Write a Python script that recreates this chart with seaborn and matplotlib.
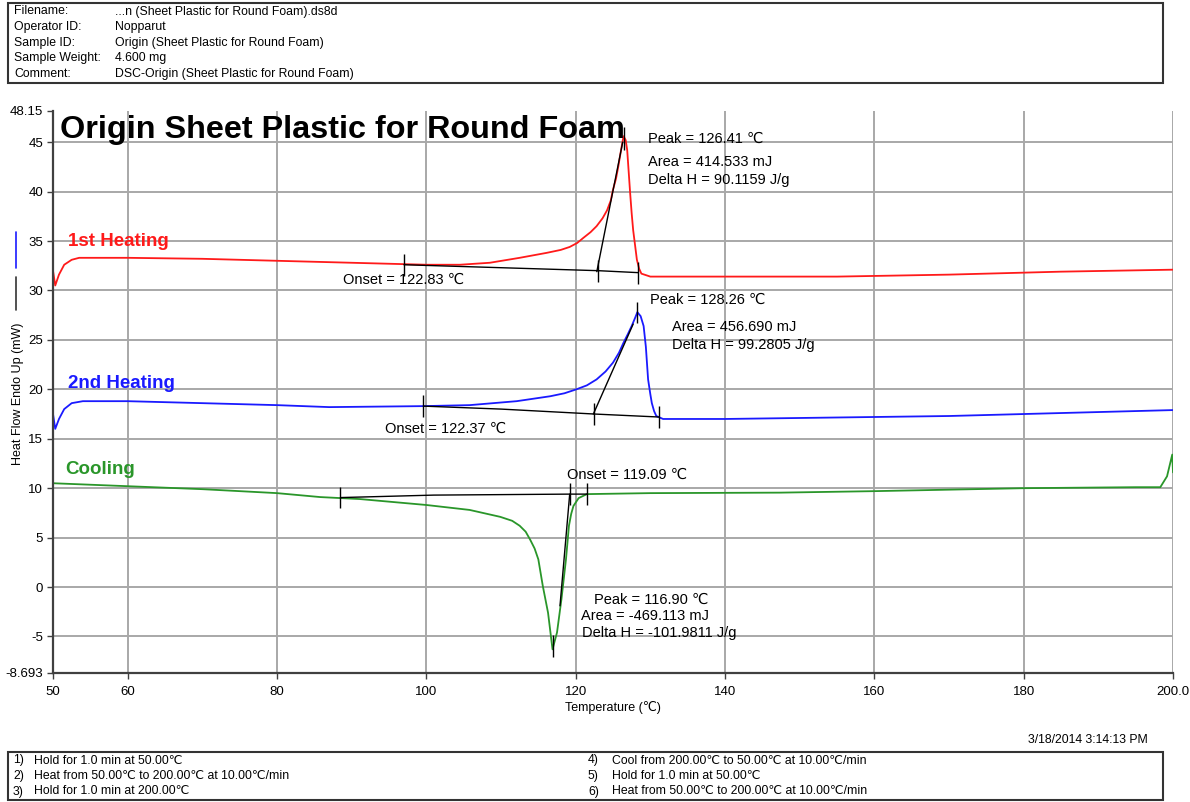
import numpy as np
import pandas as pd
import seaborn as sns
from matplotlib import pyplot as plt
from matplotlib.lines import Line2D
from matplotlib.patches import Rectangle

# DSC curves
heat1_temp = [50.0, 50.3, 50.8, 51.5, 52.5, 53.5, 60, 70, 80, 90, 100, 104.5, 108.5, 112.5,
              116.1, 118.0, 119.2, 120.2, 121.0, 122.0, 122.8, 123.6, 124.2, 124.7, 125.0, 125.4,
              125.7, 126.1, 126.41, 126.7, 126.9, 127.1, 127.3, 127.5, 127.7, 128.0, 128.2, 128.5,
              128.8, 130, 140, 155, 170, 185, 200]
heat1_flow = [32.0, 30.5, 31.6, 32.6, 33.1, 33.3, 33.3, 33.2, 33.0, 32.8, 32.6, 32.6, 32.8, 33.3,
              33.8, 34.1, 34.4, 34.8, 35.3, 35.9, 36.5, 37.3, 38.1, 39.1, 40.2, 41.3,
              42.5, 44.3, 45.6, 45.2, 44.2, 42.0, 39.8, 37.8, 36.1, 34.3, 33.1, 32.2,
              31.7, 31.4, 31.4, 31.4, 31.6, 31.9, 32.1]

heat2_temp = [50.0, 50.3, 50.8, 51.5, 52.5, 54, 60, 65, 70, 80, 87, 99.6, 105.8, 112.1, 116.6,
              118.5, 120.1, 121.5, 122.8, 124.0, 125.0, 125.8, 126.4, 127.0, 127.5, 128.0, 128.26,
              128.7, 129.1, 129.4, 129.7, 130.0, 130.2, 130.5, 130.8, 131.7, 140, 150, 160, 170,
              180, 190, 200]
heat2_flow = [17.5, 16.0, 17.0, 18.0, 18.6, 18.8, 18.8, 18.7, 18.6, 18.4, 18.2, 18.3, 18.4, 18.8, 19.3,
              19.6, 20.0, 20.4, 21.0, 21.8, 22.7, 23.7, 24.7, 25.6, 26.4, 27.3, 27.8,
              27.4, 26.4, 24.3, 21.0, 19.5, 18.6, 17.8, 17.3, 17.0, 17.0, 17.1, 17.2, 17.3,
              17.5, 17.7, 17.9]

cool_temp = [50, 60, 70, 80, 85.8, 91.1, 100, 105.8, 109.9, 111.5, 112.5, 113.3, 113.9, 114.5,
             115.0, 115.6, 116.3, 116.9, 117.5, 118.1, 118.7, 119.1, 119.4, 119.7, 120.4, 121.5,
             130, 147.4, 160, 180, 195, 198.3, 199.2, 199.9, 200]
cool_flow = [10.5, 10.2, 9.9, 9.5, 9.1, 8.9, 8.3, 7.8, 7.1, 6.7, 6.2, 5.6, 4.8, 3.9,
             2.8, 0.1, -2.6, -6.3, -4.6, -1.2, 2.8, 6.2, 7.4, 8.2, 9.0, 9.4,
             9.5, 9.55, 9.7, 10.0, 10.1, 10.1, 11.2, 13.4, 11.6]

# analysis lines (baseline + onset tangent) and their tick marks
heat1_base_t = [97.0, 110, 123.0, 128.4]
heat1_base_hf = [32.6, 32.3, 32.0, 31.8]
heat1_tan_t = [122.83, 126.3]
heat1_tan_hf = [31.9, 45.0]
heat1_ticks = [97.0, 123.0, 128.4]

heat2_base_t = [99.6, 110, 122.5, 131.1]
heat2_base_hf = [18.3, 18.0, 17.5, 17.2]
heat2_tan_t = [122.37, 127.7]
heat2_tan_hf = [17.5, 26.6]
heat2_ticks = [99.6, 122.5, 131.1]

cool_base_t = [88.5, 101, 119.2, 121.5]
cool_base_hf = [9.05, 9.3, 9.4, 9.4]
cool_tan_t = [119.2, 117.9]
cool_tan_hf = [9.4, -1.9]
cool_ticks = [88.5, 119.2, 121.5]

xticks = [50, 60, 80, 100, 120, 140, 160, 180, 200]
xtick_labels = ['50', '60', '80', '100', '120', '140', '160', '180', '200.0']
yticks = [-8.693, -5, 0, 5, 10, 15, 20, 25, 30, 35, 40, 45, 48.15]
ytick_labels = ['-8.693', '-5', '0', '5', '10', '15', '20', '25', '30', '35', '40', '45', '48.15']

header_keys = ['Filename:', 'Operator ID:', 'Sample ID:', 'Sample Weight:', 'Comment:']
header_vals = ['...n (Sheet Plastic for Round Foam).ds8d', 'Nopparut',
               'Origin (Sheet Plastic for Round Foam)', '4.600 mg',
               'DSC-Origin (Sheet Plastic for Round Foam)']
method_steps = ['Hold for 1.0 min at 50.00℃',
                'Heat from 50.00℃ to 200.00℃ at 10.00℃/min',
                'Hold for 1.0 min at 200.00℃',
                'Cool from 200.00℃ to 50.00℃ at 10.00℃/min',
                'Hold for 1.0 min at 50.00℃',
                'Heat from 50.00℃ to 200.00℃ at 10.00℃/min']

RED = '#ff1a1a'
BLUE = '#1a1aff'
GREEN = '#2a962a'

sns.set_theme(style='white')
plt.rcParams['font.family'] = ['Liberation Sans', 'DejaVu Sans']
plt.rcParams['text.color'] = 'black'
plt.rcParams['axes.labelcolor'] = 'black'

fig = plt.figure(figsize=(11.9, 8.02), dpi=100)
ax = fig.add_axes([0.04454, 0.16085, 0.94118, 0.70075])

df1 = pd.DataFrame({'Temperature': heat1_temp, 'HeatFlow': heat1_flow})
df2 = pd.DataFrame({'Temperature': heat2_temp, 'HeatFlow': heat2_flow})
df3 = pd.DataFrame({'Temperature': cool_temp, 'HeatFlow': cool_flow})
sns.lineplot(data=df1, x='Temperature', y='HeatFlow', color=RED, lw=1.3, estimator=None, ax=ax)
sns.lineplot(data=df2, x='Temperature', y='HeatFlow', color=BLUE, lw=1.3, estimator=None, ax=ax)
sns.lineplot(data=df3, x='Temperature', y='HeatFlow', color=GREEN, lw=1.3, estimator=None, ax=ax)

# baselines, tangents, ticks
for bt, bh, tt, th, ticks in [(heat1_base_t, heat1_base_hf, heat1_tan_t, heat1_tan_hf, heat1_ticks),
                              (heat2_base_t, heat2_base_hf, heat2_tan_t, heat2_tan_hf, heat2_ticks),
                              (cool_base_t, cool_base_hf, cool_tan_t, cool_tan_hf, cool_ticks)]:
    ax.plot(bt, bh, color='black', lw=1)
    ax.plot(tt, th, color='black', lw=1)
    hf = np.interp(ticks, bt, bh)
    ax.vlines(ticks, hf - 1.1, hf + 1.1, color='black', lw=1)
# peak markers
ax.vlines([126.41, 128.26, 116.9], [44.2, 26.7, -7.1], [46.5, 28.8, -4.9], color='black', lw=1)

ax.set_xlim(50, 200)
ax.set_ylim(-8.693, 48.15)
ax.set_xticks(xticks)
ax.set_xticklabels(xtick_labels)
ax.set_yticks(yticks)
ax.set_yticklabels(ytick_labels)
ax.tick_params(axis='both', labelsize=9.5, direction='out', length=4, width=1,
               color='#404040', labelcolor='black', bottom=True, left=True)
ax.tick_params(axis='x', pad=5.5)
ax.tick_params(axis='y', pad=3)
ax.grid(True, color='#a8a8a8', lw=1.4)
for i, gl in enumerate(ax.get_ygridlines()):
    if yticks[i] in (-8.693, 48.15):
        gl.set_visible(False)
ax.get_xgridlines()[0].set_visible(False)
for s in ['top', 'right']:
    ax.spines[s].set_visible(False)
for s in ['left', 'bottom']:
    ax.spines[s].set_color('#404040')
    ax.spines[s].set_linewidth(1.6)
ax.set_xlabel('Temperature (℃)', fontsize=9, labelpad=2)
ax.set_ylabel('')

# title and series labels
ax.text(51, 46.2, 'Origin Sheet Plastic for Round Foam', fontsize=23.3, fontweight='bold',
        va='center', ha='left')
ax.text(52.0, 35.0, '1st Heating', color=RED, fontsize=13.5, fontweight='bold', va='center')
ax.text(52.0, 20.6, '2nd Heating', color=BLUE, fontsize=13.5, fontweight='bold', va='center')
ax.text(51.6, 11.9, 'Cooling', color=GREEN, fontsize=13.5, fontweight='bold', va='center')

fs = 10.5
ax.text(129.7, 45.3, 'Peak = 126.41 ℃', fontsize=fs, va='center')
ax.text(129.7, 43.0, 'Area = 414.533 mJ', fontsize=fs, va='center')
ax.text(129.7, 41.2, 'Delta H = 90.1159 J/g', fontsize=fs, va='center')
ax.text(88.8, 31.1, 'Onset = 122.83 ℃', fontsize=fs, va='center')

ax.text(130.0, 29.0, 'Peak = 128.26 ℃', fontsize=fs, va='center')
ax.text(132.9, 26.3, 'Area = 456.690 mJ', fontsize=fs, va='center')
ax.text(132.9, 24.5, 'Delta H = 99.2805 J/g', fontsize=fs, va='center')
ax.text(94.5, 16.0, 'Onset = 122.37 ℃', fontsize=fs, va='center')

ax.text(118.9, 11.3, 'Onset = 119.09 ℃', fontsize=fs, va='center')
ax.text(122.4, -1.3, 'Peak = 116.90 ℃', fontsize=fs, va='center')
ax.text(120.7, -2.9, 'Area = -469.113 mJ', fontsize=fs, va='center')
ax.text(120.8, -4.6, 'Delta H = -101.9811 J/g', fontsize=fs, va='center')

# y axis label with the little line markers
fig.text(0.0151, 0.5087, 'Heat Flow Endo Up (mW)', rotation=90, fontsize=9,
         ha='center', va='center')
fig.add_artist(Line2D([0.0134, 0.0134], [1 - 268 / 802, 1 - 232 / 802], color=BLUE, lw=1.2))
fig.add_artist(Line2D([0.0134, 0.0134], [1 - 310 / 802, 1 - 277 / 802], color='#333333', lw=1.2))

# header box
fig.add_artist(Rectangle((8 / 1190, 1 - 83 / 802), 1155 / 1190, 80 / 802, transform=fig.transFigure,
                         fill=False, edgecolor='#333333', lw=1.5))
for i, (k, v) in enumerate(zip(header_keys, header_vals)):
    yy = 1 - (14.5 + i * 15.6) / 802
    fig.text(14 / 1190, yy, k, fontsize=8.8, va='baseline')
    fig.text(115 / 1190, yy, v, fontsize=8.8, va='baseline')

# date stamp
fig.text(1148 / 1190, 1 - 740 / 802, '3/18/2014 3:14:13 PM', fontsize=8.8, ha='right', va='center')

# method box
fig.add_artist(Rectangle((8 / 1190, 1 - 800 / 802), 1155 / 1190, 48 / 802, transform=fig.transFigure,
                         fill=False, edgecolor='#333333', lw=1.5))
for i, step in enumerate(method_steps):
    col = i // 3
    row = i % 3
    yy = 1 - (763.5 + row * 15.5) / 802
    nx = 13 / 1190 if col == 0 else 588 / 1190
    tx = 34 / 1190 if col == 0 else 612 / 1190
    fig.text(nx, yy, f'{i + 1})', fontsize=8.8, va='baseline')
    fig.text(tx, yy, step, fontsize=8.8, va='baseline')

plt.savefig('out.png', dpi=100)
